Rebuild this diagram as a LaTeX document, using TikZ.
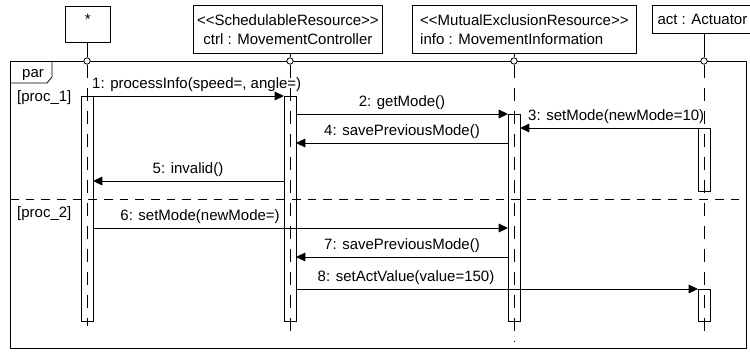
\documentclass[tikz,border=0pt]{standalone}
\usepackage{fontspec}
\setmainfont{Liberation Sans}
\usetikzlibrary{arrows.meta}

\begin{document}
\begin{tikzpicture}[x=0.3mm, y=-0.3mm,
	every node/.style={font=\fontsize{12.8}{16.2}\selectfont},
	head/.style={draw, line width=0.7pt, anchor=north west, inner sep=0pt},
	port/.style={circle, draw, fill=white, line width=0.7pt, minimum size=1.9mm, inner sep=0pt},
	bar/.style={draw, line width=0.7pt, anchor=north, minimum width=3.6mm, inner sep=0pt, outer sep=0pt},
	life/.style={line width=0.7pt, dash pattern=on 3.9mm off 3mm},
	msg/.style={line width=0.7pt, -{Triangle[length=2.8mm, width=2.6mm]}},
	lbl/.style={anchor=base, inner sep=0pt}]
	\useasboundingbox (0,0) rectangle (750,351);

	% Define the lifeline heads
	\node[head, minimum width=13.5mm, minimum height=10.8mm, text depth=9.2pt] (star) at (65,6) {*};
	\node[head, minimum width=56.7mm, minimum height=14.4mm, align=center] (ctrl) at (193,5) {<{}<SchedulableResource>{}>\\ctrl : MovementController};
	\node[head, minimum width=67.2mm, minimum height=14.4mm, align=left] (info) at (412,5) {<{}<MutualExclusionResource>{}>\\info : MovementInformation};
	\node[head, minimum width=30mm, minimum height=8.4mm] (act) at (652,5) {act : Actuator};

	% Frame of the par fragment
	\draw[line width=0.7pt] (10,61) rectangle (746,348);
	\draw[line width=0.7pt] (10,83) -- (47,83) -- (52,77) -- (52,61);
	\node[anchor=base west, inner sep=0pt] (par) at (22,77) {par};
	\node[anchor=base west, inner sep=0pt] (guard1) at (17,101) {[proc\_1]};
	\node[anchor=base west, inner sep=0pt] (guard2) at (17,217) {[proc\_2]};
	\draw[line width=0.7pt, dash pattern=on 2.6mm off 2.1mm] (10,199) -- (746,199);

	% Gates on the frame and lifelines
	\node[port] (p1) at (87,61) {};
	\node[port] (p2) at (290,61) {};
	\node[port] (p3) at (514,61) {};
	\node[port] (p4) at (704,61) {};
	\coordinate (e1) at (87,326);
	\coordinate (e2) at (290,338);
	\coordinate (e3) at (514,341);
	\coordinate (e4) at (704,340);

	\draw[line width=0.7pt] (p1 |- star.south) -- (p1);
	\draw[line width=0.7pt] (p2 |- ctrl.south) -- (p2);
	\draw[line width=0.7pt] (p3 |- info.south) -- (p3);
	\draw[line width=0.7pt] (p4 |- act.south) -- (p4);
	\draw[life] (p1) -- (e1);
	\draw[life] (p2) -- (e2);
	\draw[life] (p3) -- (e3);
	\draw[life] (p4) -- (e4);

	% Activation bars
	\node[bar, minimum height=67.5mm] (b1) at (87,96) {};
	\node[bar, minimum height=67.5mm] (b2) at (290,96) {};
	\node[bar, minimum height=62.1mm] (b3) at (514,114) {};
	\node[bar, minimum height=18.9mm] (b4a) at (704,128) {};
	\node[bar, minimum height=9.6mm] (b4b) at (704,289) {};

	% Draw the messages
	\coordinate (y4) at (0,143);
	\coordinate (y5) at (0,181);
	\coordinate (y6) at (0,228);
	\coordinate (y7) at (0,257);
	\draw[msg] (b1.north east) -- (b2.north west);
	\draw[msg] (b2.east |- b3.north) -- (b3.north west);
	\draw[msg] (b4a.north west) -- (b3.east |- b4a.north);
	\draw[msg] (b3.west |- y4) -- (b2.east |- y4);
	\draw[msg] (b2.west |- y5) -- (b1.east |- y5);
	\draw[msg] (b1.east |- y6) -- (b3.west |- y6);
	\draw[msg] (b3.west |- y7) -- (b2.east |- y7);
	\draw[msg] (b2.east |- b4b.north) -- (b4b.north west);

	% Message labels
	\node[lbl, anchor=base west] (l1) at (92,88) {1: processInfo(speed=, angle=)};
	\node[lbl] (l2) at (402,106) {2: getMode()};
	\node[lbl, anchor=base west] (l3) at (528,120) {3: setMode(newMode=10)};
	\node[lbl] (l4) at (402,135) {4: savePreviousMode()};
	\node[lbl] (l5) at (188,173) {5: invalid()};
	\node[lbl, anchor=base east] (l6) at (280,220) {6: setMode(newMode=)};
	\node[lbl] (l7) at (402,249) {7: savePreviousMode()};
	\node[lbl] (l8) at (406,281) {8: setActValue(value=150)};
\end{tikzpicture}
\end{document}
